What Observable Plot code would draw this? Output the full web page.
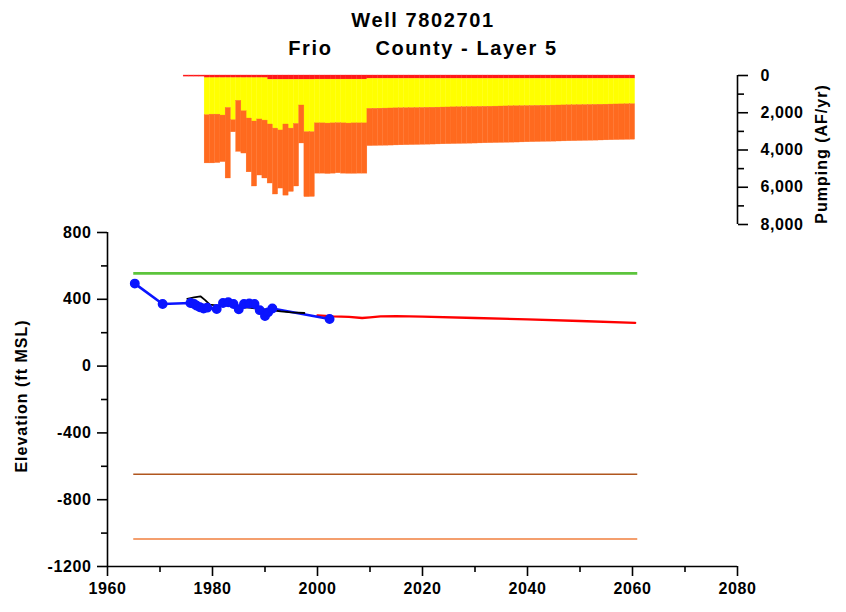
<!DOCTYPE html>
<html>
<head>
<meta charset="utf-8">
<script src="https://cdn.jsdelivr.net/npm/d3@7"></script>
<script src="https://cdn.jsdelivr.net/npm/@observablehq/plot@0.6"></script>
<style>
  body { margin: 0; background: #fff; }
  #wrap { position: relative; width: 846px; height: 612px; overflow: hidden;
          font-family: "Liberation Sans", Arial, sans-serif; font-weight: bold; color: #000; }
  .title { position: absolute; left: 0; width: 846px; text-align: center; white-space: pre;
           font-size: 20px; letter-spacing: 1.6px; line-height: 24px; }
  .vlabel { position: absolute; white-space: pre; font-size: 16px; letter-spacing: 1px;
            transform: translate(-50%, -50%) rotate(-90deg); }
  .plotbox { position: absolute; left: 0; }
  .plotbox svg text { font-family: "Liberation Sans", Arial, sans-serif; font-weight: bold; letter-spacing: 0.6px; }
</style>
</head>
<body>
<div id="wrap">
  <div class="title" style="top:8px">Well 7802701</div>
  <div class="title" style="top:36px">Frio      County - Layer 5</div>
  <div class="vlabel" style="left:822px; top:154px">Pumping (AF/yr)</div>
  <div class="vlabel" style="left:22px; top:396px">Elevation (ft MSL)</div>
  <div id="upper" class="plotbox" style="top:0px"></div>
  <div id="lower" class="plotbox" style="top:200px"></div>
</div>
<script>
// ---------- Pumping (AF/yr), one bar per year, stacked top band / middle band / bottom band ----------
const pumpYears = d3.range(1975, 2061);
const pumpTop = [
  60, 60, 60, 60,
  140, 140, 140, 140, 140, 140, 140, 140, 140, 140, 140, 140,
  230, 230, 230, 230, 230, 230, 230, 230, 230,
  220, 220, 220, 220, 220, 220, 220, 220, 220, 220,
  180, 180, 180, 180, 180, 180, 180, 180, 180, 180,
  180, 180, 180, 180, 180, 180, 180, 180, 180, 180,
  180, 180, 180, 180, 180, 180, 180, 180, 180, 180,
  180, 180, 180, 180, 180, 180, 180, 180, 180, 180,
  180, 180, 180, 180, 180, 180, 180, 180, 180, 180, 180
];
const pumpMiddle = [
  0, 0, 0, 0,
  1990, 1960, 1960, 2010, 1600, 2260, 1220, 1780, 2170, 2330, 2220, 2280,
  2400, 2620, 2720, 2400, 2620, 2370, 1380, 2810, 2810,
  2350, 2350, 2360, 2350, 2340, 2350, 2360, 2350, 2350, 2350,
  1610, 1606, 1600, 1596, 1590, 1584, 1580, 1575, 1570, 1566,
  1560, 1554, 1550, 1545, 1540, 1536, 1530, 1525, 1520, 1514,
  1510, 1505, 1500, 1496, 1490, 1485, 1480, 1474, 1470, 1465,
  1460, 1455, 1450, 1444, 1440, 1435, 1430, 1425, 1420, 1416,
  1410, 1405, 1400, 1395, 1390, 1385, 1380, 1375, 1370, 1365, 1360
];
const pumpBottom = [
  0, 0, 0, 0,
  2590, 2620, 2600, 2500, 3790, 650, 2740, 2270, 2890, 3490, 3010, 3110,
  3170, 3540, 3120, 3820, 3400, 3360, 2040, 3490, 3480,
  2700, 2700, 2710, 2700, 2690, 2700, 2700, 2710, 2700, 2700,
  2000, 1998, 1996, 1995, 1993, 1991, 1990, 1988, 1986, 1984,
  1982, 1980, 1978, 1976, 1975, 1973, 1971, 1970, 1968, 1966,
  1964, 1962, 1960, 1958, 1956, 1955, 1953, 1951, 1950, 1948,
  1946, 1944, 1942, 1940, 1938, 1936, 1934, 1933, 1931, 1930,
  1928, 1926, 1924, 1922, 1920, 1918, 1916, 1914, 1912, 1910, 1908
];
const pumpKeys = ["top band", "middle band", "bottom band"];
const pumpColors = ["#ff1a1a", "#ffff00", "#ff6a1f"];
const pumpTicks = [0, 2000, 4000, 6000, 8000];
const pumpMinorTicks = [1000, 3000, 5000, 7000];

// ---------- Elevation (ft MSL) ----------
const obsYears = [1965.2, 1970.5, 1975.8, 1976.5, 1977.0, 1977.6, 1978.3, 1979.0, 1980.8, 1982.0, 1983.0, 1984.0, 1985.0, 1986.0, 1987.0, 1988.0, 1989.0, 1990.0, 1990.6, 1991.4, 2002.3];
const obsElev  = [494, 372, 378, 372, 362, 352, 345, 350, 342, 378, 382, 372, 340, 372, 375, 372, 335, 300, 322, 345, 282];
const simYears = [1975.2, 1976.5, 1977.7, 1978.6, 1979.5, 1981, 1983, 1985, 1987, 1989, 1991, 1993, 1995, 1997.5];
const simElev  = [403, 412, 418, 395, 368, 362, 365, 352, 350, 342, 336, 328, 322, 318];
const predYears = [2000, 2003, 2006, 2008.5, 2010, 2012, 2015, 2020, 2030, 2040, 2050, 2060.5];
const predElev  = [304, 298, 295, 288, 292, 298, 299, 296, 288, 280, 270, 259];
const surfaceElev = [555];
const layerTopElev = [-648];
const layerBottomElev = [-1035];
const horizonYears = [1965, 2061];
const elevTicks = [-1200, -800, -400, 0, 400, 800];
const elevMinorTicks = [-1000, -600, -200, 200, 600];
const yearTicks = [1960, 1980, 2000, 2020, 2040, 2060, 2080];
const yearMinorTicks = [1970, 1990, 2010, 2030, 2050, 2070];

// build stacked pumping table
const wide = pumpYears.map((yr, i) => ({year: yr, "top band": pumpTop[i], "middle band": pumpMiddle[i], "bottom band": pumpBottom[i]}));
const stacked = d3.stack().keys(pumpKeys)(wide);
const pumpRects = [];
stacked.forEach((layer, k) => layer.forEach(s => {
  if (s[1] > s[0]) pumpRects.push({key: pumpKeys[k], x1: s.data.year - 0.5, x2: s.data.year + 0.5, y1: s[0], y2: s[1]});
}));

const font = {fontSize: 16, fontWeight: "bold"};

const upper = Plot.plot({
  width: 846, height: 240,
  marginTop: 75, marginBottom: 16, marginLeft: 107, marginRight: 109,
  style: {fontFamily: "Liberation Sans, Arial, sans-serif", fontSize: "16px", background: "transparent"},
  x: {domain: [1960, 2080], axis: null},
  y: {domain: [0, 8000], reverse: true, axis: null},
  color: {domain: pumpKeys, range: pumpColors},
  marks: [
    Plot.rect(pumpRects, {x1: "x1", x2: "x2", y1: "y1", y2: "y2", fill: "key", stroke: "key", strokeWidth: 0.3}),
    Plot.ruleX([2080], {y1: 0, y2: 8000, stroke: "#000", strokeWidth: 1.6}),
    Plot.axisY(pumpTicks, {anchor: "right", label: null, tickSize: 10, tickPadding: 13, strokeWidth: 1.6,
      tickFormat: d3.format(","), ...font}),
    Plot.axisY(pumpMinorTicks, {anchor: "right", label: null, tickSize: 6, strokeWidth: 1.6, tickFormat: () => ""})
  ]
});
document.getElementById("upper").appendChild(upper);

const lower = Plot.plot({
  width: 846, height: 412,
  marginTop: 32, marginBottom: 46, marginLeft: 107, marginRight: 109,
  style: {fontFamily: "Liberation Sans, Arial, sans-serif", fontSize: "16px", background: "transparent", overflow: "visible"},
  x: {domain: [1960, 2080]},
  y: {domain: [-1200, 800]},
  marks: [
    Plot.ruleY(surfaceElev, {x1: horizonYears[0], x2: horizonYears[1], stroke: "#5cc43c", strokeWidth: 2.6}),
    Plot.ruleY(layerTopElev, {x1: horizonYears[0], x2: horizonYears[1], stroke: "#b0561e", strokeWidth: 1.6}),
    Plot.ruleY(layerBottomElev, {x1: horizonYears[0], x2: horizonYears[1], stroke: "#f07f3e", strokeWidth: 1.6}),
    Plot.line(predYears.map((x, i) => ({x, y: predElev[i]})), {x: "x", y: "y", stroke: "#ff0000", strokeWidth: 2.4}),
    Plot.line(obsYears.map((x, i) => ({x, y: obsElev[i]})), {x: "x", y: "y", stroke: "#0a14ff", strokeWidth: 2.6}),
    Plot.line(simYears.map((x, i) => ({x, y: simElev[i]})), {x: "x", y: "y", stroke: "#000", strokeWidth: 1.8}),
    Plot.dot(obsYears.map((x, i) => ({x, y: obsElev[i]})), {x: "x", y: "y", r: 4.2, fill: "#0a14ff", stroke: "#0a14ff"}),
    Plot.ruleX([1960], {y1: -1200, y2: 800, stroke: "#000", strokeWidth: 1.6}),
    Plot.ruleY([-1200], {x1: 1960, x2: 2080, stroke: "#000", strokeWidth: 1.6}),
    Plot.axisY(elevTicks, {anchor: "left", label: null, tickSize: 10, tickPadding: 6, strokeWidth: 1.6, tickFormat: d => String(d), ...font}),
    Plot.axisY(elevMinorTicks, {anchor: "left", label: null, tickSize: 6, strokeWidth: 1.6, tickFormat: () => ""}),
    Plot.axisX(yearTicks, {anchor: "bottom", label: null, tickSize: 10, tickPadding: 6, strokeWidth: 1.6, tickFormat: d => String(d), ...font}),
    Plot.axisX(yearMinorTicks, {anchor: "bottom", label: null, tickSize: 6, strokeWidth: 1.6, tickFormat: () => ""})
  ]
});
document.getElementById("lower").appendChild(lower);
</script>
</body>
</html>
